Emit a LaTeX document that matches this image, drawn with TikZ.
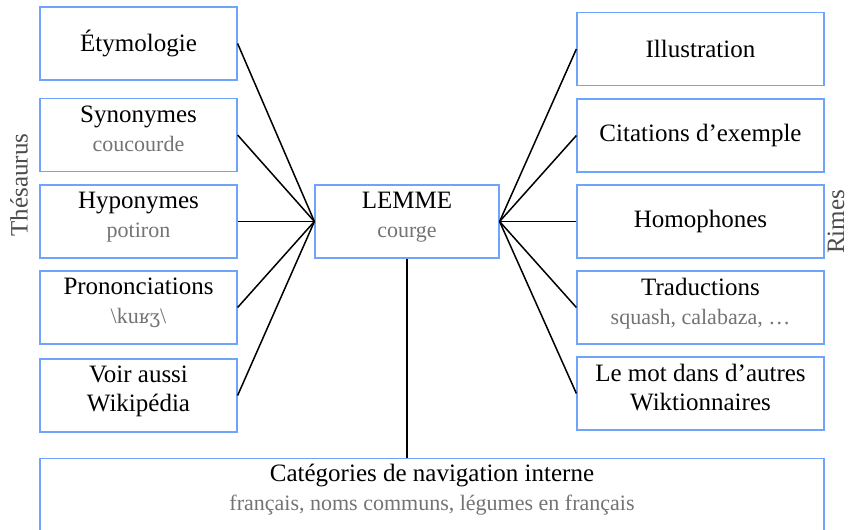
\documentclass[tikz,border=0pt]{standalone}
\usepackage{fontspec}
\setmainfont{Liberation Serif}
\newfontfamily\ipafont[Scale=0.85]{DejaVu Serif}
\usetikzlibrary{positioning}
\definecolor{bordbleu}{RGB}{110,165,250}
\definecolor{grissous}{RGB}{115,115,115}
\newcommand{\sous}[1]{\\{\fontsize{22}{26}\selectfont\color{grissous}#1}}
\begin{document}
\begin{tikzpicture}[x=1pt,y=-1pt,
    boite/.style={draw=bordbleu, line width=1.2pt, align=center, inner sep=0pt,
      minimum height=73pt, font=\fontsize{25}{29}\selectfont},
    gauche/.style={boite, minimum width=197pt},
    droite/.style={boite, minimum width=247pt},
    deux/.style={text depth=13pt},
    cote/.style={rotate=90, inner sep=0pt, text=black!70, font=\fontsize{25}{29}\selectfont},
    lien/.style={line width=1.5pt}]
    \useasboundingbox (0,0) rectangle (849,530) ;
  %--- Thesaurus
    \node[gauche] (etym) at (138.5,43.5) {Étymologie} ;
    \node[gauche, deux] (syn) at (138.5,135) {Synonymes\sous{coucourde}} ;
    \node[gauche, deux] (hypo) at (138.5,221.5) {Hyponymes\sous{potiron}} ;
    \node[gauche, deux] (pron) at (138.5,307.5)
      {Prononciations\sous{\textbackslash ku{\ipafont ʁʒ}\textbackslash}} ;
    \node[gauche, deux] (voir) at (138.5,395.5) {Voir aussi\\Wikipédia} ;
    \node[cote] (thes) at (19,185) {Thésaurus} ;
  %--- Lemme
    \node[boite, deux, minimum width=184pt] (lemme) at (407,221.5) {LEMME\sous{courge}} ;
  %--- Rimes
    \node[droite] (illu) at (700.5,49) {Illustration} ;
    \node[droite] (cit) at (700.5,135.5) {Citations d’exemple} ;
    \node[droite] (homo) at (700.5,221.5) {Homophones} ;
    \node[droite, deux] (trad) at (700.5,307.5) {Traductions\sous{squash, calabaza, …}} ;
    \node[droite, deux] (autres) at (700.5,393.5) {Le mot dans d’autres\\Wiktionnaires} ;
    \node[cote] (rimes) at (836,222) {Rimes} ;
  %--- Categories
    \node[draw=bordbleu, line width=1.2pt, minimum width=784pt, minimum height=95pt,
      anchor=north, inner sep=0pt] (cat) at (432,458) {} ;
    \node[below=6pt of cat.north, align=center, inner sep=0pt,
      font=\fontsize{25}{29}\selectfont] (cattxt)
      {Catégories de navigation interne\sous{français, noms communs, légumes en français}} ;
  %--- Liens
    \foreach \n in {etym,syn,hypo,pron,voir}
      \draw[lien] (\n.east) -- (lemme.west) ;
    \foreach \n in {illu,cit,homo,trad,autres}
      \draw[lien] (lemme.east) -- (\n.west) ;
    \draw[lien] (lemme.south) -- (lemme.south |- cat.north) ;
\end{tikzpicture}
\end{document}
